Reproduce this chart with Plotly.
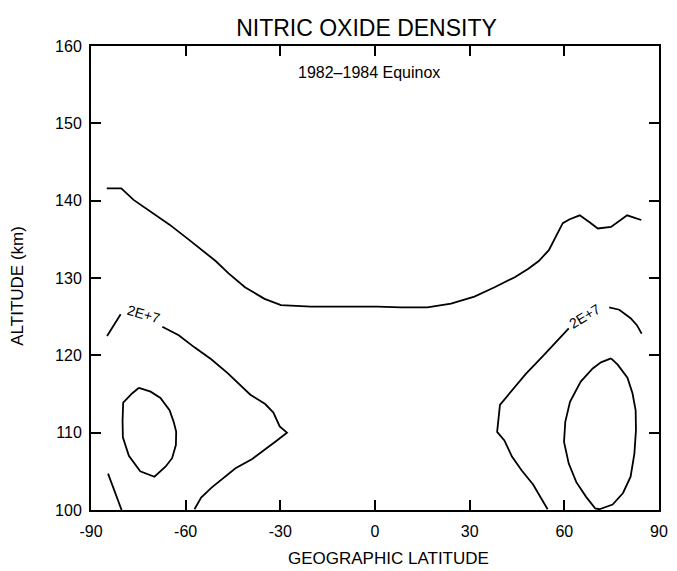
import plotly.graph_objects as go

# ---- data (latitude in degrees, altitude in km) ----
top_lat = [-85.0, -80.4, -76.5, -70.3, -65.1, -58.8, -53.7, -50.5, -46.4, -41.2, -35.0,
           -29.8, -20.3, -9.7, 0.8, 8.2, 16.6, 24.1, 31.5, 37.9, 41.1, 44.3, 48.6, 51.9,
           55.1, 57.3, 59.5, 61.7, 64.9, 68.0, 70.6, 74.8, 77.5, 79.9, 82.8, 84.4]
top_alt = [141.6, 141.6, 140.1, 138.4, 136.9, 134.9, 133.2, 132.2, 130.6, 128.8, 127.3,
           126.5, 126.3, 126.3, 126.3, 126.2, 126.2, 126.7, 127.6, 128.8, 129.5, 130.1, 131.2, 132.2,
           133.6, 135.4, 137.1, 137.6, 138.1, 137.2, 136.4, 136.6, 137.4, 138.1, 137.7, 137.5]

left2e7_a_lat = [-84.9, -82.7, -80.6]
left2e7_a_alt = [122.5, 123.9, 125.3]
left2e7_b_lat = [-67.4, -62.2, -57.1, -51.9, -46.7, -42.6, -39.5, -34.8, -32.2, -30.2, -27.9,
                 -31.4, -35.2, -38.9, -44.2, -47.5, -51.8, -55.1, -57.2]
left2e7_b_alt = [123.7, 122.6, 121.0, 119.5, 117.7, 116.1, 114.9, 113.7, 112.6, 110.8, 110.0,
                 108.9, 107.7, 106.6, 105.4, 104.3, 102.9, 101.6, 100.1]

corner_lat = [-84.6, -82.4, -80.3]
corner_alt = [104.7, 102.3, 100.0]

left_inner_lat = [-74.8, -71.1, -68.0, -65.1, -63.8, -63.0, -63.1, -64.3, -66.4, -69.9, -74.4,
                  -78.0, -79.9, -80.0, -79.8, -76.9, -74.8]
left_inner_alt = [115.8, 115.3, 114.5, 112.9, 111.4, 110.1, 108.4, 106.7, 105.6, 104.3, 105.0,
                  107.0, 109.4, 111.5, 113.9, 115.1, 115.8]

right2e7_a_lat = [54.7, 50.1, 46.5, 43.4, 41.0, 38.7, 39.6, 43.5, 47.8, 53.2, 57.6, 61.4]
right2e7_a_alt = [100.1, 103.3, 105.1, 106.9, 109.0, 110.1, 113.6, 115.5, 117.6, 119.9, 121.8, 123.5]
right2e7_b_lat = [74.2, 77.4, 81.0, 83.0, 84.5]
right2e7_b_alt = [126.2, 125.9, 124.8, 123.9, 122.8]

right_inner_lat = [74.8, 76.9, 80.0, 81.6, 82.6, 82.7, 82.2, 81.0, 78.6, 75.3, 71.1, 69.8,
                   66.9, 63.8, 61.4, 59.9, 60.3, 61.8, 65.2, 69.0, 71.6, 74.8]
right_inner_alt = [119.6, 118.8, 117.1, 115.1, 112.9, 110.3, 107.3, 104.3, 102.2, 100.7, 100.1, 100.2,
                   101.7, 103.6, 106.0, 108.8, 111.4, 114.0, 116.6, 118.3, 119.1, 119.6]

contour_label = "2E+7"
left_label_pos = (-73.4, 125.3)
right_label_pos = (66.5, 125.1)

x_ticks = [-90, -60, -30, 0, 30, 60, 90]
x_ticktext = ["-90", "-60", "-30", "0", "30", "60", "90"]
y_ticks = [100, 110, 120, 130, 140, 150, 160]
y_ticktext = ["100", "110", "120", "130", "140", "150", "160"]

FONT = "Liberation Sans, Arial, Helvetica, sans-serif"

# the page body adds an 8px offset; the figure is laid out to compensate
OFF = 8
W, H = 677, 571

fig = go.Figure()
segments = [
    (top_lat, top_alt),
    (left2e7_a_lat, left2e7_a_alt),
    (left2e7_b_lat, left2e7_b_alt),
    (corner_lat, corner_alt),
    (left_inner_lat, left_inner_alt),
    (right2e7_a_lat, right2e7_a_alt),
    (right2e7_b_lat, right2e7_b_alt),
    (right_inner_lat, right_inner_alt),
]
for xs, ys in segments:
    fig.add_trace(go.Scatter(x=xs, y=ys, mode="lines",
                             line=dict(color="black", width=1.8),
                             hoverinfo="skip", showlegend=False))

fig.add_annotation(x=left_label_pos[0], y=left_label_pos[1], text=contour_label,
                   showarrow=False, textangle=16,
                   font=dict(family=FONT, size=14, color="black"))
fig.add_annotation(x=right_label_pos[0], y=right_label_pos[1], text=contour_label,
                   showarrow=False, textangle=-31,
                   font=dict(family=FONT, size=14, color="black"))

fig.add_annotation(x=-2, y=156.6, text="1982\u20131984 Equinox", showarrow=False,
                   font=dict(family=FONT, size=16, color="black"))

fig.add_annotation(xref="paper", yref="paper", x=0.5246, y=-0.128,
                   text="GEOGRAPHIC LATITUDE", showarrow=False,
                   xanchor="center", yanchor="bottom", borderpad=0,
                   font=dict(family=FONT, size=17, color="black"))
fig.add_annotation(xref="paper", yref="paper", x=-0.1285, y=0.4834,
                   text="ALTITUDE (km)", showarrow=False, textangle=-90,
                   xanchor="center", yanchor="middle",
                   font=dict(family=FONT, size=17, color="black"))

fig.update_layout(
    width=W, height=H,
    margin=dict(l=91 - OFF, r=W - (91 - OFF) - 568, t=46 - OFF, b=H - (46 - OFF) - 464, pad=0),
    paper_bgcolor="white", plot_bgcolor="white",
    title=dict(text="NITRIC OXIDE DENSITY", x=(366.5 - OFF) / W, xanchor="center",
               y=1 - (28 - OFF) / H, yanchor="middle",
               font=dict(family=FONT, size=23, color="black")),
    xaxis=dict(range=[-90, 90], tickvals=x_ticks, ticktext=x_ticktext,
               showgrid=False, zeroline=False, showline=True, linecolor="black",
               linewidth=2, mirror="allticks", ticks="inside", ticklen=10,
               tickwidth=1.5, tickcolor="black", ticklabelstandoff=6,
               tickfont=dict(family=FONT, size=16, color="black")),
    yaxis=dict(range=[100, 160], tickvals=y_ticks, ticktext=y_ticktext,
               showgrid=False, zeroline=False, showline=True, linecolor="black",
               linewidth=2, mirror="allticks", ticks="inside", ticklen=10,
               tickwidth=1.5, tickcolor="black", ticklabelstandoff=4,
               tickfont=dict(family=FONT, size=16, color="black")),
)

fig.write_html("out.html")
